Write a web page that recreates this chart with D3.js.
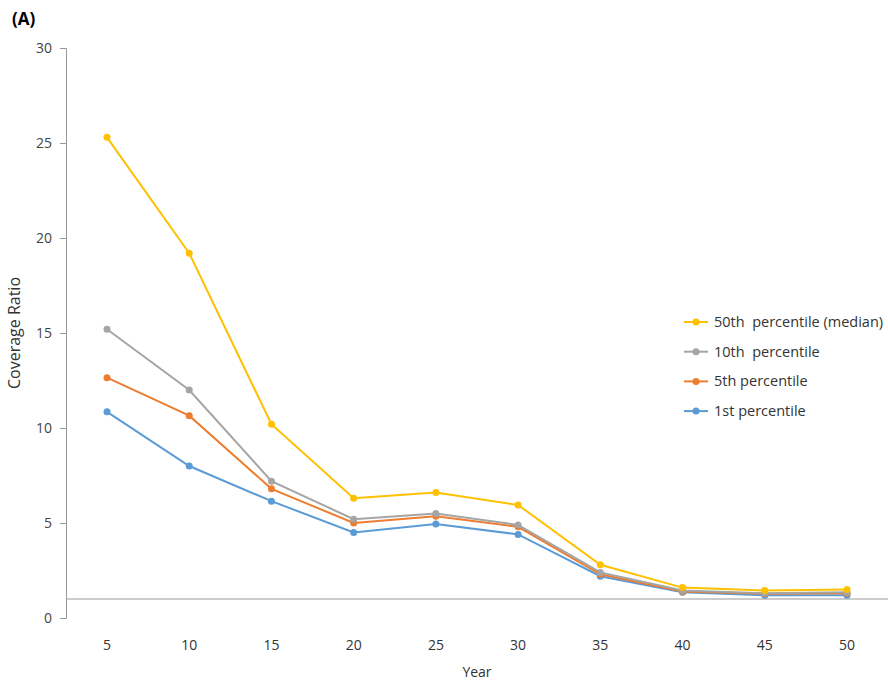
<!DOCTYPE html>
<html><head><meta charset="utf-8">
<script src="https://cdn.jsdelivr.net/npm/d3@7"></script>
<style>body{margin:0;background:#fff}text{font-family:"Open Sans",sans-serif;fill:#333}</style>
</head><body><svg id="c" width="888" height="683"></svg>
<script>
const years = [5, 10, 15, 20, 25, 30, 35, 40, 45, 50];
const p50 = [25.3, 19.2, 10.2, 6.3, 6.6, 5.95, 2.8, 1.6, 1.45, 1.5];
const p10 = [15.2, 12.0, 7.2, 5.2, 5.5, 4.9, 2.4, 1.45, 1.3, 1.35];
const p5 = [12.65, 10.65, 6.8, 5.0, 5.35, 4.8, 2.3, 1.4, 1.28, 1.3];
const p1 = [10.85, 8.0, 6.15, 4.5, 4.95, 4.4, 2.2, 1.35, 1.2, 1.2];
const yTicks = [0, 5, 10, 15, 20, 25, 30];
const series = [
  {name: "50th  percentile (median)", values: p50, color: "#FFC000"},
  {name: "10th  percentile", values: p10, color: "#A5A5A5"},
  {name: "5th percentile", values: p5, color: "#ED7D31"},
  {name: "1st percentile", values: p1, color: "#5B9BD5"}
];

const svg = d3.select("#c");
const x = d3.scalePoint().domain(years).range([107, 847]);
const y = d3.scaleLinear().domain([0, 30]).range([618, 48]);

const ya = svg.append("g").attr("transform", "translate(66,0)")
  .call(d3.axisLeft(y).tickValues(yTicks).tickSize(6).tickPadding(8));
ya.selectAll("line,path").attr("stroke", "#999");
ya.selectAll("text").attr("font-size", 14).style("fill", "#444");

svg.append("line").attr("x1", 66).attr("x2", 888).attr("y1", y(1)).attr("y2", y(1)).attr("stroke", "#999");

svg.selectAll(".xl").data(years).join("text")
  .attr("x", d => x(d)).attr("y", 650).attr("text-anchor", "middle")
  .attr("font-size", 14).text(d => d);

svg.append("text").attr("x", 477).attr("y", 677).attr("text-anchor", "middle").attr("font-size", 14).text("Year");
svg.append("text").attr("transform", "translate(20,333) rotate(-90)").attr("text-anchor", "middle").attr("font-size", 16).text("Coverage Ratio");
svg.append("text").attr("x", 12).attr("y", 25).attr("font-size", 17).attr("font-weight", "bold").style("fill", "#000").text("(A)");

const line = d3.line().x((d, i) => x(years[i])).y(d => y(d));
series.slice().reverse().forEach(s => {
  svg.append("path").attr("d", line(s.values)).attr("fill", "none").attr("stroke", s.color).attr("stroke-width", 2);
  svg.selectAll(null).data(s.values).join("circle")
    .attr("cx", (d, i) => x(years[i])).attr("cy", d => y(d)).attr("r", 3.5).attr("fill", s.color);
});

const lg = svg.append("g");
series.forEach((s, i) => {
  const yy = 322 + i * 29.7;
  lg.append("line").attr("x1", 684).attr("x2", 708).attr("y1", yy).attr("y2", yy).attr("stroke", s.color).attr("stroke-width", 2);
  lg.append("circle").attr("cx", 696).attr("cy", yy).attr("r", 3.5).attr("fill", s.color);
  lg.append("text").attr("x", 714).attr("y", yy + 5).attr("font-size", 14.5)
    .style("white-space", "pre").text(s.name);
});
</script></body></html>
